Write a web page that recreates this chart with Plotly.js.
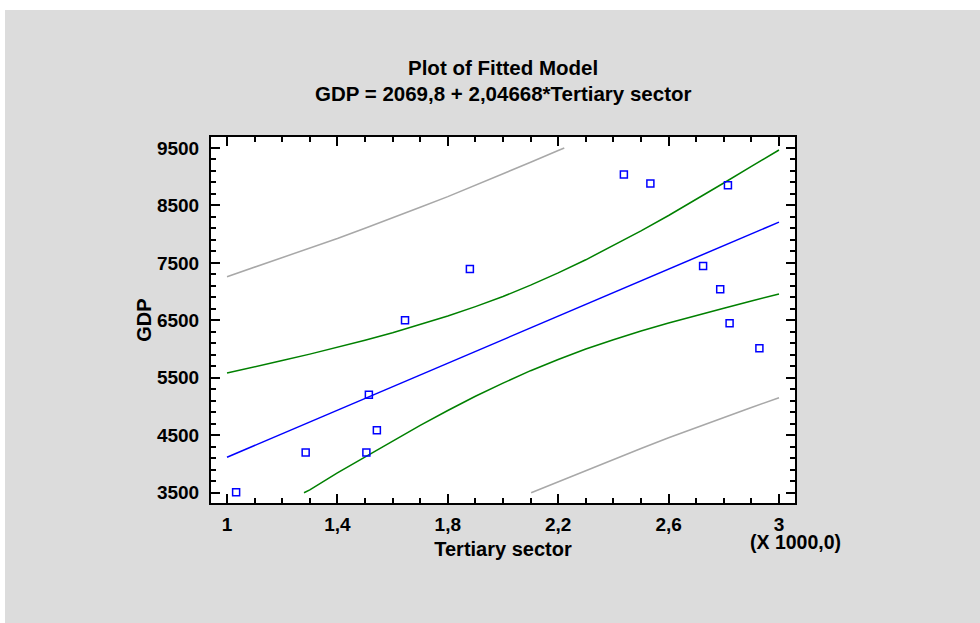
<!DOCTYPE html>
<html>
<head>
<meta charset="utf-8">
<script src="https://cdn.plot.ly/plotly-3.0.1.min.js"></script>
<style>
  html, body { margin: 0; padding: 0; background: #ffffff; width: 980px; height: 623px; overflow: hidden; }
  #chart { position: absolute; left: 5px; top: 10px; width: 975px; height: 613px; }
</style>
</head>
<body>
<div id="chart"></div>
<script>
// Observed data (Tertiary sector, GDP)
const xObs = [1033, 1285, 1505, 1514, 1543, 1645, 1880, 2438, 2534, 2725, 2787, 2815, 2821, 2929];
const yObs = [3510, 4200, 4200, 5205, 4585, 6500, 7395, 9040, 8880, 7445, 7040, 8850, 6450, 6015];

// Fitted line
const fitX = [1000, 1200, 1400, 1600, 1800, 2000, 2200, 2400, 2600, 2800, 3000];
const fitY = [4117, 4526, 4935, 5345, 5754, 6163, 6573, 6982, 7391, 7801, 8210];

// Confidence limits for the mean (green)
const upperMeanX = [1000, 1100, 1200, 1300, 1400, 1500, 1600, 1700, 1800, 1900, 2000, 2100, 2200, 2300, 2400, 2500, 2600, 2700, 2800, 2900, 3000];
const upperMeanY = [5584, 5688, 5800, 5912, 6030, 6155, 6285, 6425, 6575, 6739, 6915, 7112, 7325, 7554, 7800, 8058, 8325, 8604, 8890, 9180, 9465];
const lowerMeanX = [1279, 1300, 1400, 1500, 1600, 1700, 1800, 1900, 2000, 2100, 2200, 2300, 2400, 2500, 2600, 2700, 2800, 2900, 3000];
const lowerMeanY = [3500, 3549, 3845, 4125, 4402, 4673, 4931, 5179, 5407, 5624, 5818, 6000, 6162, 6316, 6453, 6588, 6712, 6838, 6960];

// Prediction limits (gray)
const upperPredX = [1000, 1100, 1200, 1300, 1400, 1500, 1600, 1700, 1800, 1900, 2000, 2100, 2200, 2222];
const upperPredY = [7260, 7423, 7585, 7756, 7924, 8104, 8281, 8468, 8654, 8851, 9045, 9251, 9455, 9500];
const lowerPredX = [2102, 2200, 2300, 2400, 2500, 2600, 2700, 2800, 2900, 3000];
const lowerPredY = [3500, 3691, 3886, 4083, 4269, 4456, 4634, 4814, 4982, 5154];

// Axis ticks
const xTickVals = [1000, 1400, 1800, 2200, 2600, 3000];
const xTickText = ["1", "1,4", "1,8", "2,2", "2,6", "3"];
const yTickVals = [3500, 4500, 5500, 6500, 7500, 8500, 9500];
const yTickText = ["3500", "4500", "5500", "6500", "7500", "8500", "9500"];

const FONT = "Liberation Sans, Arial, Helvetica, sans-serif";
const lineW = 1.5;
const boldFont = (s) => ({ family: FONT, size: s, color: "#000", weight: "bold" });

const traces = [
  { x: upperPredX, y: upperPredY, mode: "lines", line: { color: "#a8a8a8", width: lineW }, hoverinfo: "skip" },
  { x: lowerPredX, y: lowerPredY, mode: "lines", line: { color: "#a8a8a8", width: lineW }, hoverinfo: "skip" },
  { x: upperMeanX, y: upperMeanY, mode: "lines", line: { color: "#008000", width: lineW }, hoverinfo: "skip" },
  { x: lowerMeanX, y: lowerMeanY, mode: "lines", line: { color: "#008000", width: lineW }, hoverinfo: "skip" },
  { x: fitX, y: fitY, mode: "lines", line: { color: "#0000ff", width: lineW }, hoverinfo: "skip" },
  { x: xObs, y: yObs, mode: "markers", marker: { symbol: "square-open", size: 7, color: "#0000ff", line: { width: 1.5, color: "#0000ff" } } }
];

const axisCommon = {
  showgrid: false, zeroline: false, showline: true, linecolor: "#000", linewidth: 2,
  mirror: "ticks", ticks: "inside", ticklen: 9, tickwidth: 2, tickcolor: "#000",
  tickmode: "array",
  tickfont: boldFont(19)
};

const layout = {
  width: 975, height: 613,
  paper_bgcolor: "#dcdcdc", plot_bgcolor: "#ffffff",
  margin: { l: 206, r: 185, t: 127, b: 120, pad: 0 },
  showlegend: false,
  font: { family: FONT, size: 19, color: "#000" },
  xaxis: Object.assign({}, axisCommon, {
    range: [942, 3058], tickvals: xTickVals, ticktext: xTickText,
    ticklabelstandoff: 3,
    minor: { tick0: 1000, dtick: 100, ticks: "inside", ticklen: 5, tickwidth: 2, tickcolor: "#000" },
    title: { text: "Tertiary sector", font: boldFont(20), standoff: 8 }
  }),
  yaxis: Object.assign({}, axisCommon, {
    range: [3321, 9691], tickvals: yTickVals, ticktext: yTickText,
    ticklabelstandoff: 6,
    minor: { tick0: 3500, dtick: 200, ticks: "inside", ticklen: 5, tickwidth: 2, tickcolor: "#000" },
    title: { text: "GDP", font: boldFont(20), standoff: 0 }
  }),
  annotations: [
    { text: "Plot of Fitted Model", xref: "paper", yref: "paper", x: 0.5, y: 1.191, xanchor: "center", yanchor: "middle", showarrow: false,
      font: boldFont(20.5) },
    { text: "GDP = 2069,8 + 2,04668*Tertiary sector", xref: "paper", yref: "paper", x: 0.5, y: 1.120, xanchor: "center", yanchor: "middle", showarrow: false,
      font: boldFont(20.5) },
    { text: "(X 1000,0)", xref: "paper", yref: "paper", x: 1.0, y: -0.106, xanchor: "center", yanchor: "middle", showarrow: false,
      font: boldFont(19.5) }
  ]
};

Plotly.newPlot("chart", traces, layout, { displayModeBar: false, staticPlot: true });
</script>
</body>
</html>
